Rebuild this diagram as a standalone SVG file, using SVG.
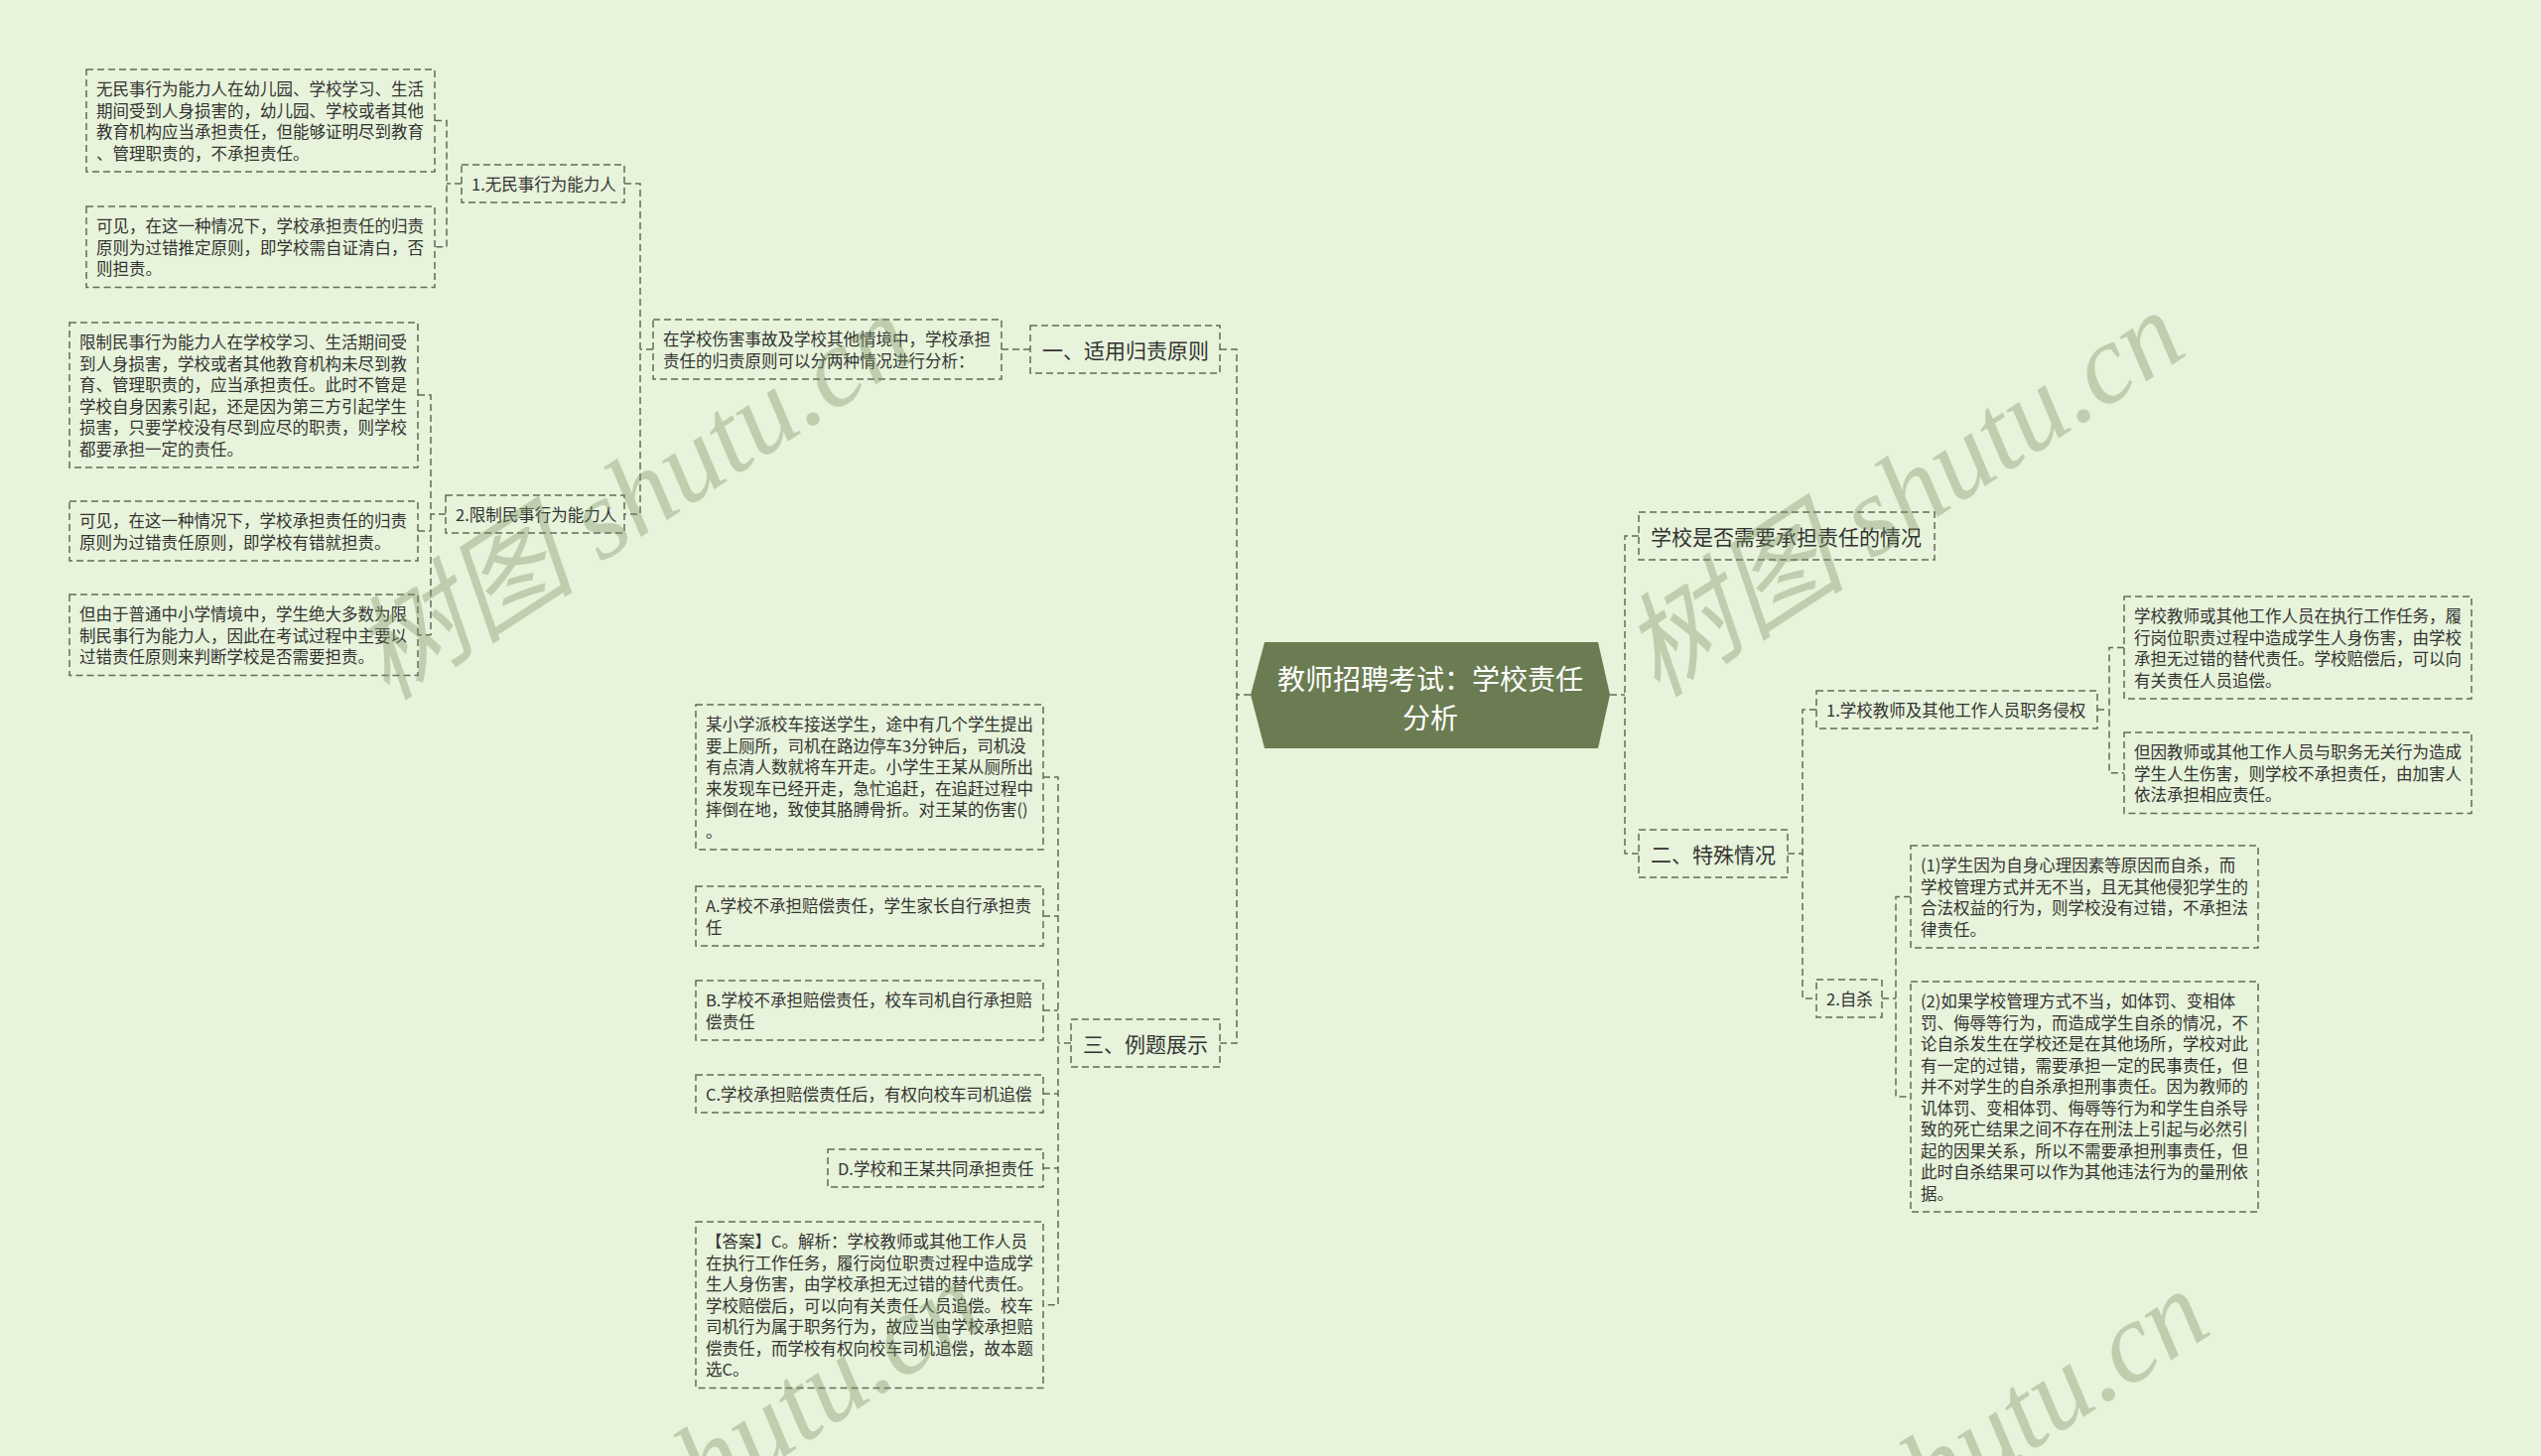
<svg xmlns="http://www.w3.org/2000/svg" width="2560" height="1467" viewBox="0 0 2560 1467">
<style>
.bx{fill:none;stroke:#646b58;stroke-width:1.5;stroke-dasharray:7 4}
.cn{fill:none;stroke:#646b58;stroke-width:1.5;stroke-dasharray:7 4}
.t{font-family:"Noto Sans CJK SC","Liberation Sans",sans-serif;font-size:16.5px;fill:#333333;dominant-baseline:central}
.tb{font-size:21px}
.tc{font-size:28px;fill:#ffffff;text-anchor:middle}
.wm{font-family:"Liberation Serif","Noto Sans CJK SC",serif;font-style:italic;font-size:114px;fill:#7f9468;opacity:0.38}
</style>
<rect x="0" y="0" width="2560" height="1467" fill="#e7f3da"/>

<g id="connectors">
<path class="cn" d="M438,121.5H450V248.75H438M465,185H450"/>
<path class="cn" d="M421,398H434V639.75H421M421,535H434M449,518H434"/>
<path class="cn" d="M629,185H645V518H629M658,352H645"/>
<path class="cn" d="M1009,352H1038"/>
<path class="cn" d="M1229,352H1246V1051H1229M1260,700H1246"/>
<path class="cn" d="M1051,783H1066V1314.75H1051M1051,923H1066M1051,1018H1066M1051,1102H1066M1051,1177H1066M1079,1051H1066"/>
<path class="cn" d="M1622,700H1637M1651,540H1637V860H1651"/>
<path class="cn" d="M1801,860H1816M1830,715H1816V1006H1830"/>
<path class="cn" d="M2113,715H2125M2140,652.5H2125V778.75H2140"/>
<path class="cn" d="M1896,1006H1910M1925,903.5H1910V1105H1925"/>
</g>

<g id="root">
<polygon points="1260,700 1274,647 1610,647 1622,700 1610,754 1274,754" fill="#6b7c52"/>
<text class="t tc" x="1441" y="683">教师招聘考试：学校责任</text>
<text class="t tc" x="1441" y="722">分析</text>
</g>

<g id="n-yi">
<rect class="bx" x="1038" y="328" width="191" height="48"/>
<text class="t tb" x="1050" y="352">一、适用归责原则</text>
</g>
<g id="n-intro">
<rect class="bx" x="658" y="322" width="351" height="60"/>
<text class="t" x="668"><tspan x="668" y="341.25">在学校伤害事故及学校其他情境中，学校承担</tspan><tspan x="668" y="362.75">责任的归责原则可以分两种情况进行分析：</tspan></text>
</g>
<g id="n-l1">
<rect class="bx" x="465" y="166" width="164" height="38"/>
<text class="t" x="475" y="185">1.无民事行为能力人</text>
</g>
<g id="n-b1">
<rect class="bx" x="87" y="70" width="351" height="103"/>
<text class="t"><tspan x="97" y="89.25">无民事行为能力人在幼儿园、学校学习、生活</tspan><tspan x="97" y="110.75">期间受到人身损害的，幼儿园、学校或者其他</tspan><tspan x="97" y="132.25">教育机构应当承担责任，但能够证明尽到教育</tspan><tspan x="97" y="153.75">、管理职责的，不承担责任。</tspan></text>
</g>
<g id="n-b2">
<rect class="bx" x="87" y="208" width="351" height="81.5"/>
<text class="t"><tspan x="97" y="227.25">可见，在这一种情况下，学校承担责任的归责</tspan><tspan x="97" y="248.75">原则为过错推定原则，即学校需自证清白，否</tspan><tspan x="97" y="270.25">则担责。</tspan></text>
</g>
<g id="n-l2">
<rect class="bx" x="449" y="499" width="180" height="38"/>
<text class="t" x="459" y="518">2.限制民事行为能力人</text>
</g>
<g id="n-b3">
<rect class="bx" x="70" y="325" width="351" height="146"/>
<text class="t"><tspan x="80" y="344.25">限制民事行为能力人在学校学习、生活期间受</tspan><tspan x="80" y="365.75">到人身损害，学校或者其他教育机构未尽到教</tspan><tspan x="80" y="387.25">育、管理职责的，应当承担责任。此时不管是</tspan><tspan x="80" y="408.75">学校自身因素引起，还是因为第三方引起学生</tspan><tspan x="80" y="430.25">损害，只要学校没有尽到应尽的职责，则学校</tspan><tspan x="80" y="451.75">都要承担一定的责任。</tspan></text>
</g>
<g id="n-b4">
<rect class="bx" x="70" y="505" width="351" height="60"/>
<text class="t"><tspan x="80" y="524.25">可见，在这一种情况下，学校承担责任的归责</tspan><tspan x="80" y="545.75">原则为过错责任原则，即学校有错就担责。</tspan></text>
</g>
<g id="n-b5">
<rect class="bx" x="70" y="599" width="351" height="81.5"/>
<text class="t"><tspan x="80" y="618.25">但由于普通中小学情境中，学生绝大多数为限</tspan><tspan x="80" y="639.75">制民事行为能力人，因此在考试过程中主要以</tspan><tspan x="80" y="661.25">过错责任原则来判断学校是否需要担责。</tspan></text>
</g>

<g id="n-san">
<rect class="bx" x="1079" y="1027" width="150" height="48"/>
<text class="t tb" x="1091" y="1051">三、例题展示</text>
</g>
<g id="n-q">
<rect class="bx" x="701" y="710" width="350" height="146"/>
<text class="t"><tspan x="711" y="729.25">某小学派校车接送学生，途中有几个学生提出</tspan><tspan x="711" y="750.75">要上厕所，司机在路边停车3分钟后，司机没</tspan><tspan x="711" y="772.25">有点清人数就将车开走。小学生王某从厕所出</tspan><tspan x="711" y="793.75">来发现车已经开走，急忙追赶，在追赶过程中</tspan><tspan x="711" y="815.25">摔倒在地，致使其胳膊骨折。对王某的伤害()</tspan><tspan x="711" y="836.75">。</tspan></text>
</g>
<g id="n-a">
<rect class="bx" x="701" y="893" width="350" height="60"/>
<text class="t"><tspan x="711" y="912.25">A.学校不承担赔偿责任，学生家长自行承担责</tspan><tspan x="711" y="933.75">任</tspan></text>
</g>
<g id="n-b">
<rect class="bx" x="701" y="988" width="350" height="60"/>
<text class="t"><tspan x="711" y="1007.25">B.学校不承担赔偿责任，校车司机自行承担赔</tspan><tspan x="711" y="1028.75">偿责任</tspan></text>
</g>
<g id="n-c">
<rect class="bx" x="701" y="1083" width="350" height="38"/>
<text class="t" x="711" y="1102">C.学校承担赔偿责任后，有权向校车司机追偿</text>
</g>
<g id="n-d">
<rect class="bx" x="834" y="1158" width="217" height="38"/>
<text class="t" x="844" y="1177">D.学校和王某共同承担责任</text>
</g>
<g id="n-ans">
<rect class="bx" x="701" y="1231" width="350" height="167.5"/>
<text class="t"><tspan x="711" y="1250.25">【答案】C。解析：学校教师或其他工作人员</tspan><tspan x="711" y="1271.75">在执行工作任务，履行岗位职责过程中造成学</tspan><tspan x="711" y="1293.25">生人身伤害，由学校承担无过错的替代责任。</tspan><tspan x="711" y="1314.75">学校赔偿后，可以向有关责任人员追偿。校车</tspan><tspan x="711" y="1336.25">司机行为属于职务行为，故应当由学校承担赔</tspan><tspan x="711" y="1357.75">偿责任，而学校有权向校车司机追偿，故本题</tspan><tspan x="711" y="1379.25">选C。</tspan></text>
</g>

<g id="n-whether">
<rect class="bx" x="1651" y="516" width="298" height="48"/>
<text class="t tb" x="1663" y="540">学校是否需要承担责任的情况</text>
</g>
<g id="n-er">
<rect class="bx" x="1651" y="836" width="150" height="48"/>
<text class="t tb" x="1663" y="860">二、特殊情况</text>
</g>
<g id="n-rl1">
<rect class="bx" x="1830" y="696" width="283" height="38"/>
<text class="t" x="1840" y="715">1.学校教师及其他工作人员职务侵权</text>
</g>
<g id="n-r1">
<rect class="bx" x="2140" y="601" width="350" height="103"/>
<text class="t"><tspan x="2150" y="620.25">学校教师或其他工作人员在执行工作任务，履</tspan><tspan x="2150" y="641.75">行岗位职责过程中造成学生人身伤害，由学校</tspan><tspan x="2150" y="663.25">承担无过错的替代责任。学校赔偿后，可以向</tspan><tspan x="2150" y="684.75">有关责任人员追偿。</tspan></text>
</g>
<g id="n-r2">
<rect class="bx" x="2140" y="738" width="350" height="81.5"/>
<text class="t"><tspan x="2150" y="757.25">但因教师或其他工作人员与职务无关行为造成</tspan><tspan x="2150" y="778.75">学生人生伤害，则学校不承担责任，由加害人</tspan><tspan x="2150" y="800.25">依法承担相应责任。</tspan></text>
</g>
<g id="n-rl2">
<rect class="bx" x="1830" y="987" width="66" height="38"/>
<text class="t" x="1840" y="1006">2.自杀</text>
</g>
<g id="n-s1">
<rect class="bx" x="1925" y="852" width="350" height="103"/>
<text class="t"><tspan x="1935" y="871.25">(1)学生因为自身心理因素等原因而自杀，而</tspan><tspan x="1935" y="892.75">学校管理方式并无不当，且无其他侵犯学生的</tspan><tspan x="1935" y="914.25">合法权益的行为，则学校没有过错，不承担法</tspan><tspan x="1935" y="935.75">律责任。</tspan></text>
</g>
<g id="n-s2">
<rect class="bx" x="1925" y="989" width="350" height="232"/>
<text class="t"><tspan x="1935" y="1008.25">(2)如果学校管理方式不当，如体罚、变相体</tspan><tspan x="1935" y="1029.75">罚、侮辱等行为，而造成学生自杀的情况，不</tspan><tspan x="1935" y="1051.25">论自杀发生在学校还是在其他场所，学校对此</tspan><tspan x="1935" y="1072.75">有一定的过错，需要承担一定的民事责任，但</tspan><tspan x="1935" y="1094.25">并不对学生的自杀承担刑事责任。因为教师的</tspan><tspan x="1935" y="1115.75">讥体罚、变相体罚、侮辱等行为和学生自杀导</tspan><tspan x="1935" y="1137.25">致的死亡结果之间不存在刑法上引起与必然引</tspan><tspan x="1935" y="1158.75">起的因果关系，所以不需要承担刑事责任，但</tspan><tspan x="1935" y="1180.25">此时自杀结果可以作为其他违法行为的量刑依</tspan><tspan x="1935" y="1201.75">据。</tspan></text>
</g>

<g id="watermarks">
<text class="wm" transform="translate(390,707) rotate(-33)">树图 shutu.cn</text>
<text class="wm" transform="translate(1670,704) rotate(-33)">树图 shutu.cn</text>
<text class="wm" transform="translate(460,1682) rotate(-33)">树图 shutu.cn</text>
<text class="wm" transform="translate(1695,1690) rotate(-33)">树图 shutu.cn</text>
</g>
</svg>
